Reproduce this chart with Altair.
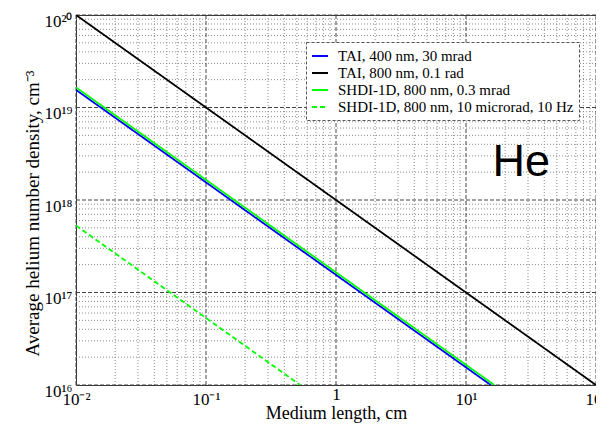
import altair as alt
import pandas as pd

# ---- data ----
series_names = [
    "TAI, 400 nm, 30 mrad",
    "TAI, 800 nm, 0.1 rad",
    "SHDI-1D, 800 nm, 0.3 mrad",
    "SHDI-1D, 800 nm, 10 microrad, 10 Hz",
]
series_colors = ["#0000ff", "#000000", "#00ff00", "#00ff00"]
series_dashes = [[1, 0], [1, 0], [1, 0], [5, 3]]

tai400_x = [0.01, 15.5]
tai400_y = [1.55e19, 1e16]
tai800_x = [0.01, 100]
tai800_y = [1e20, 1e16]
shdi03_x = [0.01, 16.5]
shdi03_y = [1.65e19, 1e16]
shdi10_x = [0.01, 0.53]
shdi10_y = [5.3e17, 1e16]

x_major = [0.01, 0.1, 1, 10, 100]
x_major_labels = ["10⁻²", "10⁻¹", "1", "10¹", "10²"]
y_major = [1e16, 1e17, 1e18, 1e19, 1e20]
y_major_labels = ["10¹⁶", "10¹⁷", "10¹⁸", "10¹⁹", "10²⁰"]
minor_mult = [2, 3, 4, 5, 6, 7, 8, 9]

annot_x = [16]
annot_y = [1.8e18]
annot_text = ["He"]

# ---- tables ----
rows = []
for name, xs, ys in zip(series_names,
                        [tai400_x, tai800_x, shdi03_x, shdi10_x],
                        [tai400_y, tai800_y, shdi03_y, shdi10_y]):
    for i, (xv, yv) in enumerate(zip(xs, ys)):
        rows.append({"series": name, "x": xv, "y": yv, "i": i})
lines_df = pd.DataFrame(rows)

x_minor = [m * d for d in x_major[:-1] for m in minor_mult]
y_minor = [m * d for d in y_major[:-1] for m in minor_mult]
gx_major = pd.DataFrame({"x": x_major})
gx_minor = pd.DataFrame({"x": x_minor})
gy_major = pd.DataFrame({"y": y_major})
gy_minor = pd.DataFrame({"y": y_minor})
annot_df = pd.DataFrame({"x": annot_x, "y": annot_y, "t": annot_text})


def label_expr(vals, labels):
    expr = f"'{labels[-1]}'"
    for v, l in reversed(list(zip(vals[:-1], labels[:-1]))):
        expr = f"datum.value < {v * 2:g} ? '{l}' : ({expr})"
    return expr


xscale = alt.Scale(type="log", domain=[0.01, 100], nice=False)
yscale = alt.Scale(type="log", domain=[1e16, 1e20], nice=False)

xaxis = alt.Axis(values=x_major, labelExpr=label_expr(x_major, x_major_labels),
                 title="Medium length, cm", labelFlush=False, labelOverlap=False,
                 labelPadding={"condition": {"test": "datum.value == 1", "value": 1}, "value": 6},
                 titleY=33, titleBaseline="alphabetic", titleFontSize=18)
yaxis = alt.Axis(values=y_major, labelExpr=label_expr(y_major, y_major_labels),
                 title="Average helium number density, cm⁻³", labelFlush=False,
                 labelOverlap=False, labelPadding=4, labelOffset=6,
                 titleX=-38, titleY=198, titleBaseline="alphabetic", titleFontSize=19)

X = alt.X("x:Q", scale=xscale, axis=xaxis)
Y = alt.Y("y:Q", scale=yscale, axis=yaxis)

minor_style = dict(color="#8a8a8a", strokeDash=[1, 2], strokeWidth=1)
major_style = dict(color="#444444", strokeDash=[4, 2], strokeWidth=1)

gxm = alt.Chart(gx_minor).mark_rule(**minor_style).encode(x=X)
gym = alt.Chart(gy_minor).mark_rule(**minor_style).encode(y=Y)
gxM = alt.Chart(gx_major).mark_rule(**major_style).encode(x=X)
gyM = alt.Chart(gy_major).mark_rule(**major_style).encode(y=Y)

legend = alt.Legend(
    title=None, orient="none", legendX=230, legendY=27,
    symbolType="stroke", symbolSize=256, symbolStrokeWidth=1.8,
    labelFont="Liberation Serif", labelFontSize=15, labelColor="black",
    labelOffset=9, rowPadding=0, padding=5,
    fillColor="white", strokeColor="#555555",
    labelLimit=400,
)

lines = alt.Chart(lines_df).mark_line(strokeWidth=1.8, clip=True).encode(
    x=X,
    y=Y,
    color=alt.Color("series:N", scale=alt.Scale(domain=series_names, range=series_colors),
                    legend=legend),
    strokeDash=alt.StrokeDash("series:N", scale=alt.Scale(domain=series_names, range=series_dashes),
                              legend=legend),
    detail="series:N",
    order="i:Q",
)

annot = alt.Chart(annot_df).mark_text(
    font="Liberation Sans", fontSize=45, align="left", baseline="alphabetic", color="black"
).encode(x=X, y=Y, text="t:N")

chart = alt.layer(gxm, gym, gxM, gyM, lines, annot).properties(
    width=520, height=370,
    autosize=alt.AutoSizeParams(type="none"),
    padding={"left": 68, "top": 7, "right": 0, "bottom": 40},
).configure_view(
    stroke="#333333", strokeWidth=1
).configure_axis(
    grid=False, ticks=False, domain=False,
    labelFont="Liberation Serif", labelFontSize=17, labelColor="black",
    titleFont="Liberation Serif", titleFontWeight="normal", titleColor="black",
).configure_legend(
    strokeDash=[3, 2], strokeWidth=1
)

chart.save("out.html", embed_options={"renderer": "svg", "actions": False})
